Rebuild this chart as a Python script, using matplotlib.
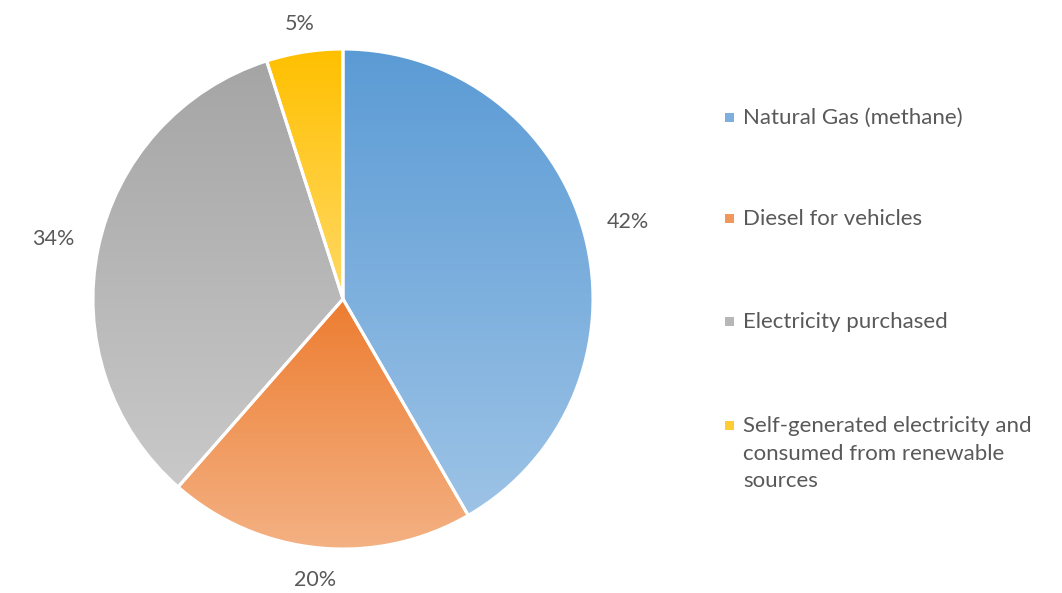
import matplotlib.pyplot as plt
import matplotlib.colors as mcolors
import numpy as np
from matplotlib.patches import Rectangle

plt.rcParams['font.family'] = ['Lato', 'DejaVu Sans']

# data
categories = ['Natural Gas (methane)', 'Diesel for vehicles', 'Electricity purchased',
              'Self-generated electricity and\nconsumed from renewable\nsources']
values = [41.65, 19.81, 33.6, 4.94]
# gradient colours (top, bottom)
top_colors = ['#5B9BD5', '#ED7D31', '#A5A5A5', '#FFC000']
bottom_colors = ['#9DC3E6', '#F4B183', '#C9C9C9', '#FFD966']
label_radius = [1.18, 1.13, 1.185, 1.115]
text_color = '#595959'

fig = plt.figure(figsize=(10.62, 5.93), dpi=100)
W, H = 1062, 593
# pie axes: centre (343, 299), radius 250 px
ax = fig.add_axes([93 / W, (H - 549) / H, 500 / W, 500 / H])

wedges, texts, autotexts = ax.pie(values, startangle=90, counterclock=False, radius=1,
                                  autopct='%1.0f%%', pctdistance=1.15,
                                  wedgeprops=dict(edgecolor='white', linewidth=2.2),
                                  textprops=dict(color=text_color, fontsize=15.5))
ax.axis('off')

for w, t, r in zip(wedges, autotexts, label_radius):
    a = np.deg2rad((w.theta1 + w.theta2) / 2)
    t.set_position((r * np.cos(a), r * np.sin(a)))
    t.set_clip_on(False)

# vertical gradient fill per wedge (over the wedge bounding box)
for w, ct, cb in zip(wedges, top_colors, bottom_colors):
    th = np.linspace(np.deg2rad(w.theta1), np.deg2rad(w.theta2), 200)
    ys = np.concatenate([np.sin(th) * w.r, [0]])
    xs = np.concatenate([np.cos(th) * w.r, [0]])
    cmap = mcolors.LinearSegmentedColormap.from_list('g', [cb, ct])
    grad = np.linspace(0, 1, 256).reshape(-1, 1)
    im = ax.imshow(grad, cmap=cmap, extent=[xs.min(), xs.max(), ys.min(), ys.max()],
                   origin='lower', aspect='auto', zorder=0.5, interpolation='bilinear')
    im.set_clip_path(w)
    w.set_facecolor('none')
    w.set_zorder(1)
ax.set_xlim(-1, 1)
ax.set_ylim(-1, 1)

# legend
leg_y = [117, 218, 321, 425]
for lab, ct, cb, yy in zip(categories, top_colors, bottom_colors, leg_y):
    mid = np.mean([mcolors.to_rgb(ct), mcolors.to_rgb(cb)], axis=0)
    fig.add_artist(Rectangle((725 / W, (H - yy - 4.5) / H), 9 / W, 9 / H,
                             transform=fig.transFigure, facecolor=mid, edgecolor='none'))
    fig.text(743 / W, (H - yy + 9) / H, lab, color=text_color, fontsize=16,
             va='top', ha='left', linespacing=1.48)

fig.savefig('out.png', dpi=100)
